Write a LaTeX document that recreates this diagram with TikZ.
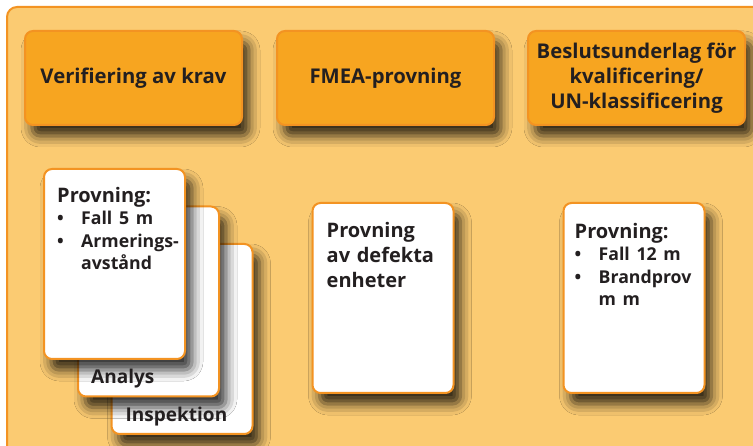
\documentclass[tikz,border=0pt]{standalone}
\usepackage{fontspec}
\setmainfont{Open Sans}
\usetikzlibrary{positioning,shadows.blur}
\definecolor{bakgrund}{HTML}{FBCB72}
\definecolor{rubrikfarg}{HTML}{F7A520}
\definecolor{kant}{HTML}{F39322}
\definecolor{textfarg}{HTML}{231F20}
\newcommand{\pkt}[1]{\par\noindent\makebox[24pt][l]{\textbullet}#1}
\newcommand{\pktrad}[1]{\par\noindent\hspace*{24pt}#1}
\tikzset{
    skugga/.style = {blur shadow={shadow xshift=7pt, shadow yshift=-11pt, shadow blur radius=11pt, shadow opacity=80}},
    huvud/.style = {draw=kant, line width=2pt, fill=rubrikfarg, rounded corners=8pt, minimum width=217pt, minimum height=94pt, align=center, text=textfarg, font=\fontsize{20.3}{25}\selectfont\bfseries, skugga},
    kort/.style = {draw=kant, line width=2pt, fill=white, rounded corners=8pt, minimum width=141pt, minimum height=190pt, skugga},
    korttext/.style = {anchor=north west, inner sep=0pt, text width=125pt, text=textfarg, font=\fontsize{20}{25}\selectfont\bfseries},
    fot/.style = {anchor=base west, inner sep=0pt, text=textfarg, font=\fontsize{19}{22}\selectfont\bfseries}
}
\begin{document}
\begin{tikzpicture}[x=1pt, y=-1pt]
    \useasboundingbox (0,0) rectangle (753,446);
    % ram
    \draw [draw=kant, line width=2pt, fill=bakgrund, rounded corners=10pt] (7,7) rectangle (790,480);

    % rubriker
    \node [huvud] (verif) at (133.5,78) {Verifiering av krav};
    \node [huvud, right=33pt of verif] (fmea) {FMEA-provning};
    \node [huvud, right=32pt of fmea] (beslut) {Beslutsunderlag för\\kvalificering/\\UN-klassificering};

    % kort
    \node [kort] (insp) at (182,339) {};
    \node [kort] (analys) at (148.5,301.5) {};
    \node [kort] (prov) at (114.5,264) {};
    \node [kort] (defekt) at (383,298) {};
    \node [kort] (klass) at (634,298) {};

    \node [fot] (insptext) at ([xshift=15pt, yshift=13pt]insp.south west) {Inspektion};
    \node [fot] (analystext) at ([xshift=14pt, yshift=14pt]analys.south west) {Analys};
    \node [korttext] (provtext) at ([xshift=14pt, yshift=-19pt]prov.north west) {Provning:
        {\fontsize{17.7}{22.5}\selectfont
        \pkt{Fall 5 m}
        \pkt{Armerings-}
        \pktrad{avstånd}\par}};
    \node [korttext] (defekttext) at ([xshift=15pt, yshift=-20pt]defekt.north west) {Provning\\av defekta\\enheter};
    \node [korttext] (klasstext) at ([xshift=12pt, yshift=-21pt]klass.north west) {Provning:
        {\fontsize{17.7}{22.5}\selectfont
        \pkt{Fall 12 m}
        \pkt{Brandprov}
        \pktrad{m m}\par}};
\end{tikzpicture}
\end{document}
